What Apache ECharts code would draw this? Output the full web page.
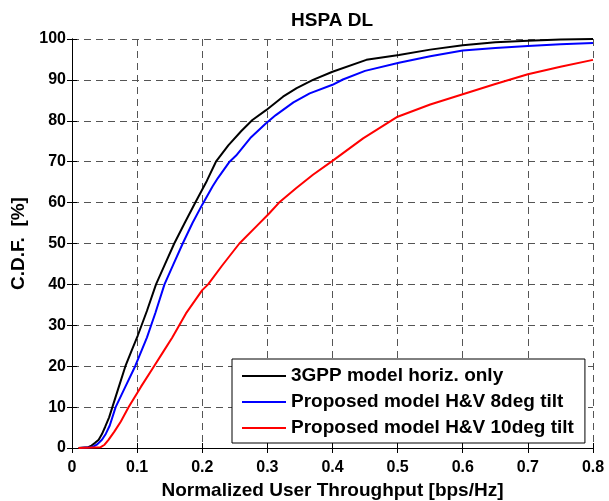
<!DOCTYPE html>
<html>
<head>
<meta charset="utf-8">
<script src="https://cdn.jsdelivr.net/npm/echarts@6/dist/echarts.min.js"></script>
<style>
html,body{margin:0;padding:0;background:#fff;}
#chart{width:609px;height:501px;}
</style>
</head>
<body>
<div id="chart"></div>
<script>
var xTicks = [0, 0.1, 0.2, 0.3, 0.4, 0.5, 0.6, 0.7, 0.8];
var yTicks = [0, 10, 20, 30, 40, 50, 60, 70, 80, 90, 100];
var seriesNames = ['3GPP model horiz. only', 'Proposed model H&V 8deg tilt', 'Proposed model H&V 10deg tilt'];

var black3gpp = [[0.01,0],[0.025,0.2],[0.03,0.6],[0.035,1.2],[0.041,2],[0.046,3.4],[0.051,5.2],[0.057,7.5],[0.062,10],[0.072,15],[0.082,20],[0.092,24],[0.101,27.5],[0.115,33.5],[0.129,40],[0.143,45],[0.157,50],[0.173,55],[0.19,60.2],[0.207,65.3],[0.221,70],[0.24,74],[0.26,77.5],[0.277,80.2],[0.298,82.6],[0.324,85.9],[0.345,88],[0.37,90],[0.40,92],[0.452,94.9],[0.502,96.1],[0.55,97.4],[0.6,98.5],[0.65,99.2],[0.7,99.6],[0.75,99.9],[0.8,100]];

var blue8deg = [[0.012,0],[0.031,0.2],[0.038,0.8],[0.046,2],[0.052,3.5],[0.058,5.5],[0.067,10],[0.082,15],[0.097,20],[0.106,23.5],[0.115,27],[0.128,33],[0.142,40],[0.156,45],[0.17,50],[0.185,55],[0.2,59.5],[0.216,64],[0.224,66],[0.242,70],[0.252,71.5],[0.275,76],[0.298,79.4],[0.313,81.4],[0.34,84.5],[0.365,86.7],[0.40,88.8],[0.416,90.1],[0.45,92.2],[0.502,94.2],[0.55,95.8],[0.6,97.2],[0.65,97.8],[0.7,98.3],[0.75,98.7],[0.8,99]];

var red10deg = [[0.01,0],[0.044,0.2],[0.05,0.8],[0.056,2],[0.065,4],[0.075,6.5],[0.087,10],[0.106,15],[0.126,20],[0.14,23.5],[0.154,27],[0.175,32.9],[0.2,38.6],[0.209,40],[0.23,44.5],[0.257,50],[0.285,54.5],[0.303,57.4],[0.318,60],[0.344,63.5],[0.37,66.8],[0.40,70.2],[0.447,75.7],[0.5,81],[0.55,84],[0.6,86.5],[0.65,89],[0.7,91.4],[0.75,93.2],[0.8,94.9]];

var FONT = '"Liberation Sans", Arial, Helvetica, sans-serif';
var chart = echarts.init(document.getElementById('chart'), null, {renderer: 'canvas'});

function mkSeries(name, data, color) {
  return {
    name: name, type: 'line', data: data, showSymbol: false, symbol: 'none',
    lineStyle: {color: color, width: 2}, itemStyle: {color: color},
    animation: false, z: 3
  };
}

var option = {
  backgroundColor: '#fff',
  animation: false,
  title: {
    text: 'HSPA DL', left: 327, top: 6, textAlign: 'center',
    textStyle: {fontFamily: FONT, fontSize: 19, fontWeight: 'bold', color: '#000'}
  },
  grid: {left: 72, right: 16, top: 39, bottom: 53, containLabel: false, outerBoundsMode: 'none'},
  legend: {
    show: true,
    orient: 'vertical', left: 232, top: 359,
    backgroundColor: '#fff', borderColor: '#000', borderWidth: 1, borderRadius: 0,
    padding: [7, 11, 5, 10],
    icon: 'rect',
    itemWidth: 44, itemHeight: 2, itemGap: 6,
    textStyle: {fontFamily: FONT, fontSize: 19, fontWeight: 'bold', color: '#000', lineHeight: 20},
    data: seriesNames.slice()
  },
  xAxis: [{
    type: 'value', min: xTicks[0], max: xTicks[xTicks.length-1], interval: 0.1,
    position: 'bottom',
    name: 'Normalized User Throughput [bps/Hz]', nameLocation: 'middle', nameGap: 32,
    nameTextStyle: {fontFamily: FONT, fontSize: 19, fontWeight: 'bold', color: '#000'},
    axisLine: {show: true, lineStyle: {color: '#000', width: 1}},
    axisTick: {show: true, inside: true, length: 5, lineStyle: {color: '#000'}},
    axisLabel: {fontFamily: FONT, fontSize: 16, fontWeight: 'bold', color: '#000', margin: 12,
      formatter: function(v){ var s = Math.round(v*10)/10; return String(s); }},
    splitLine: {show: true, lineStyle: {color: '#555', width: 1, type: [7, 5]}}
  }, {
    type: 'value', min: xTicks[0], max: xTicks[xTicks.length-1], interval: 0.1,
    position: 'top',
    axisLine: {show: true, lineStyle: {color: '#000', width: 1}},
    axisTick: {show: true, inside: true, length: 5, lineStyle: {color: '#000'}},
    axisLabel: {show: false}, splitLine: {show: false}
  }],
  yAxis: [{
    type: 'value', min: yTicks[0], max: yTicks[yTicks.length-1], interval: 10,
    position: 'left',
    name: 'C.D.F.  [%]', nameLocation: 'middle', nameGap: 43,
    nameTextStyle: {fontFamily: FONT, fontSize: 19, fontWeight: 'bold', color: '#000'},
    axisLine: {show: true, lineStyle: {color: '#000', width: 1}},
    axisTick: {show: true, inside: true, length: 5, lineStyle: {color: '#000'}},
    axisLabel: {fontFamily: FONT, fontSize: 16, fontWeight: 'bold', color: '#000', margin: 6},
    splitLine: {show: true, lineStyle: {color: '#555', width: 1, type: [7, 5]}}
  }, {
    type: 'value', min: yTicks[0], max: yTicks[yTicks.length-1], interval: 10,
    position: 'right',
    axisLine: {show: true, lineStyle: {color: '#000', width: 1}},
    axisTick: {show: true, inside: true, length: 5, lineStyle: {color: '#000'}},
    axisLabel: {show: false}, splitLine: {show: false}
  }],
  series: [
    mkSeries(seriesNames[0], black3gpp, '#000000'),
    mkSeries(seriesNames[1], blue8deg, '#0000ff'),
    mkSeries(seriesNames[2], red10deg, '#ff0000')
  ]
};
chart.setOption(option);
</script>
</body>
</html>
